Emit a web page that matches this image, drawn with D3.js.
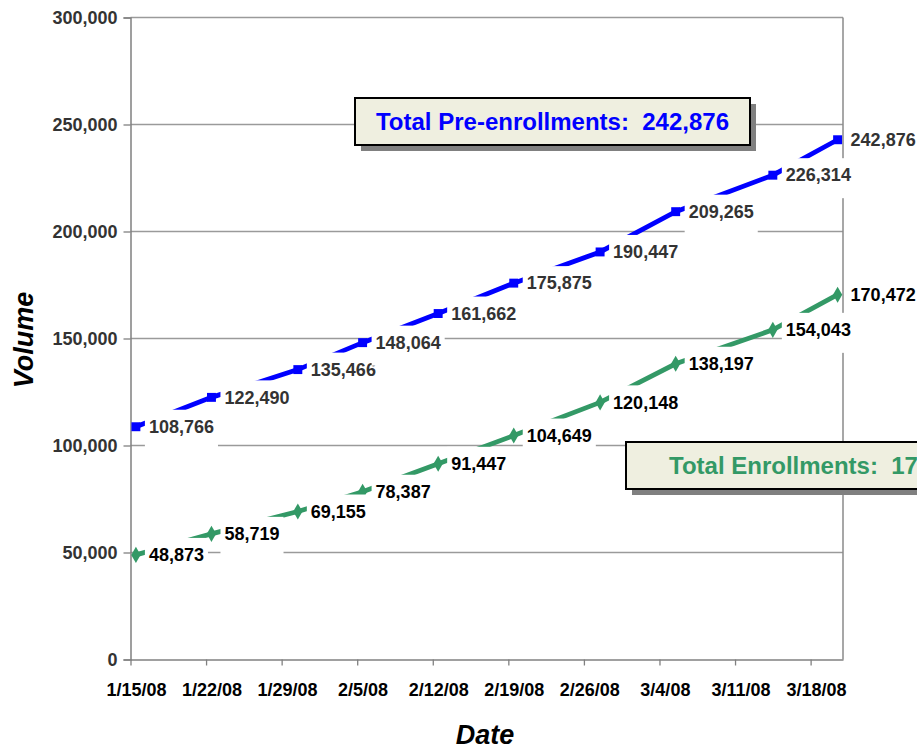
<!DOCTYPE html>
<html><head><meta charset="utf-8">
<script src="https://cdn.jsdelivr.net/npm/d3@7"></script>
<style>
body{margin:0;background:#fff;}
svg{display:block;font-family:"Liberation Sans",Arial,Helvetica,sans-serif;}
</style>
</head><body>
<svg id="chart" width="917" height="747"></svg>
<script>
// ---- data ----
const dates = ["2008-01-15","2008-01-22","2008-01-30","2008-02-05","2008-02-12","2008-02-19","2008-02-27","2008-03-05","2008-03-14","2008-03-20"];
const preEnrollments = [108766,122490,135466,148064,161662,175875,190447,209265,226314,242876];
const enrollments = [48873,58719,69155,78387,91447,104649,120148,138197,154043,170472];
const tickDates = ["2008-01-15","2008-01-22","2008-01-29","2008-02-05","2008-02-12","2008-02-19","2008-02-26","2008-03-04","2008-03-11","2008-03-18"];
const yTicks = [0,50000,100000,150000,200000,250000,300000];
const domainDates = ["2008-01-15","2008-03-21"];
const seriesNames = ["Total Pre-enrollments", "Total Enrollments"];
const xTitle = "Date", yTitle = "Volume";

// ---- layout ----
const parse = d3.utcParse("%Y-%m-%d");
const L = 130.5, R = 843, T = 17.5, B = 659.5;
const svg = d3.select("#chart");
const blue = "#0000ff", green = "#339966";

const x = d3.scaleUtc().domain(domainDates.map(parse)).range([L, R]);
const y = d3.scaleLinear().domain([0, 300000]).range([B, T]);
const center = d => d3.utcHour.offset(d, 12);
const halfDay = x(center(parse(domainDates[0]))) - x(parse(domainDates[0]));

// gridlines
svg.append("g").selectAll("line").data(yTicks.slice(1)).join("line")
  .attr("x1", L).attr("x2", R).attr("y1", d => y(d)).attr("y2", d => y(d))
  .attr("stroke", "#9a9a9a").attr("stroke-width", 1.3);

// right border
svg.append("line").attr("x1", R).attr("x2", R).attr("y1", T).attr("y2", B)
  .attr("stroke", "#8a8a8a").attr("stroke-width", 1.5);

// y axis
const yAxis = svg.append("g").attr("transform", `translate(${L},0)`)
  .call(d3.axisLeft(y).tickValues(yTicks).tickFormat(d3.format(",")).tickSize(7));
yAxis.select(".domain").attr("stroke", "#808080").attr("stroke-width", 1.5);
yAxis.selectAll(".tick line").attr("stroke", "#808080").attr("stroke-width", 1.3);
yAxis.selectAll(".tick text").attr("x", -13).attr("fill", "#333")
  .style("font-size", "18px").style("font-weight", "bold")
  .style("font-family", "'Liberation Sans',Arial,sans-serif");

// x axis
const xAxis = svg.append("g").attr("transform", `translate(0,${B})`)
  .call(d3.axisBottom(x).tickValues(tickDates.map(parse))
    .tickFormat(d3.utcFormat("%-m/%-d/%y")).tickSize(6).tickSizeOuter(0));
xAxis.select(".domain").attr("stroke", "#808080").attr("stroke-width", 1.5);
xAxis.selectAll(".tick line").attr("stroke", "#808080").attr("stroke-width", 1.3);
xAxis.selectAll(".tick text").attr("x", halfDay).attr("y", 24).attr("fill", "#000")
  .style("font-size", "18px").style("font-weight", "bold")
  .style("font-family", "'Liberation Sans',Arial,sans-serif");

// series
const series = [
  {name: seriesNames[0], values: preEnrollments, color: blue, labelColor: "#333", symbol: d3.symbolSquare, size: 80},
  {name: seriesNames[1], values: enrollments, color: green, labelColor: "#000", symbol: d3.symbolDiamond, size: 75}
];
series.forEach(s => {
  s.pts = s.values.map((v, i) => ({x: x(center(parse(dates[i]))), y: y(v), v}));
});

const line = d3.line().x(d => d.x).y(d => d.y);
series.forEach(s => {
  svg.append("path").datum(s.pts).attr("d", line)
    .attr("fill", "none").attr("stroke", s.color).attr("stroke-width", 4.8);
  svg.append("g").selectAll("path").data(s.pts).join("path")
    .attr("transform", d => `translate(${d.x},${d.y})`)
    .attr("d", d3.symbol(s.symbol, s.size)).attr("fill", s.color);
});

// data labels with white boxes
const fmt = d3.format(",");
series.forEach(s => {
  s.pts.forEach(p => {
    const g = svg.append("g");
    const rect = g.append("rect").attr("fill", "#fff");
    const t = g.append("text").attr("x", p.x + 13).attr("y", p.y).attr("dy", "0.35em")
      .attr("fill", s.labelColor).style("font-size", "18px").style("font-weight", "bold")
      .text(fmt(p.v));
    const w = t.node().getComputedTextLength();
    rect.attr("x", p.x + 9).attr("width", w + 8).attr("y", p.y - 17).attr("height", 40);
  });
});

// total boxes
function totalBox(bx, by, s) {
  const w = 395, h = 47;
  const g = svg.append("g");
  g.append("rect").attr("x", bx + 6).attr("y", by + 6).attr("width", w).attr("height", h).attr("fill", "#808080");
  g.append("rect").attr("x", bx).attr("y", by).attr("width", w).attr("height", h)
    .attr("fill", "#efefe0").attr("stroke", "#000").attr("stroke-width", 2);
  g.append("text").attr("x", bx + w / 2).attr("y", by + h / 2).attr("dy", "0.35em")
    .attr("text-anchor", "middle").attr("fill", s.color)
    .style("font-size", "24px").style("font-weight", "bold").style("white-space", "pre")
    .text(`${s.name}:  ${fmt(s.values[s.values.length - 1])}`);
}
totalBox(355, 98, series[0]);
totalBox(626, 442, series[1]);

// axis titles
svg.append("text").attr("transform", "translate(33,340) rotate(-90)")
  .attr("text-anchor", "middle").style("font-size", "27px").style("font-weight", "bold")
  .style("font-style", "italic").text(yTitle);
svg.append("text").attr("x", 485).attr("y", 744)
  .attr("text-anchor", "middle").style("font-size", "27px").style("font-weight", "bold")
  .style("font-style", "italic").text(xTitle);
</script>
</body></html>
